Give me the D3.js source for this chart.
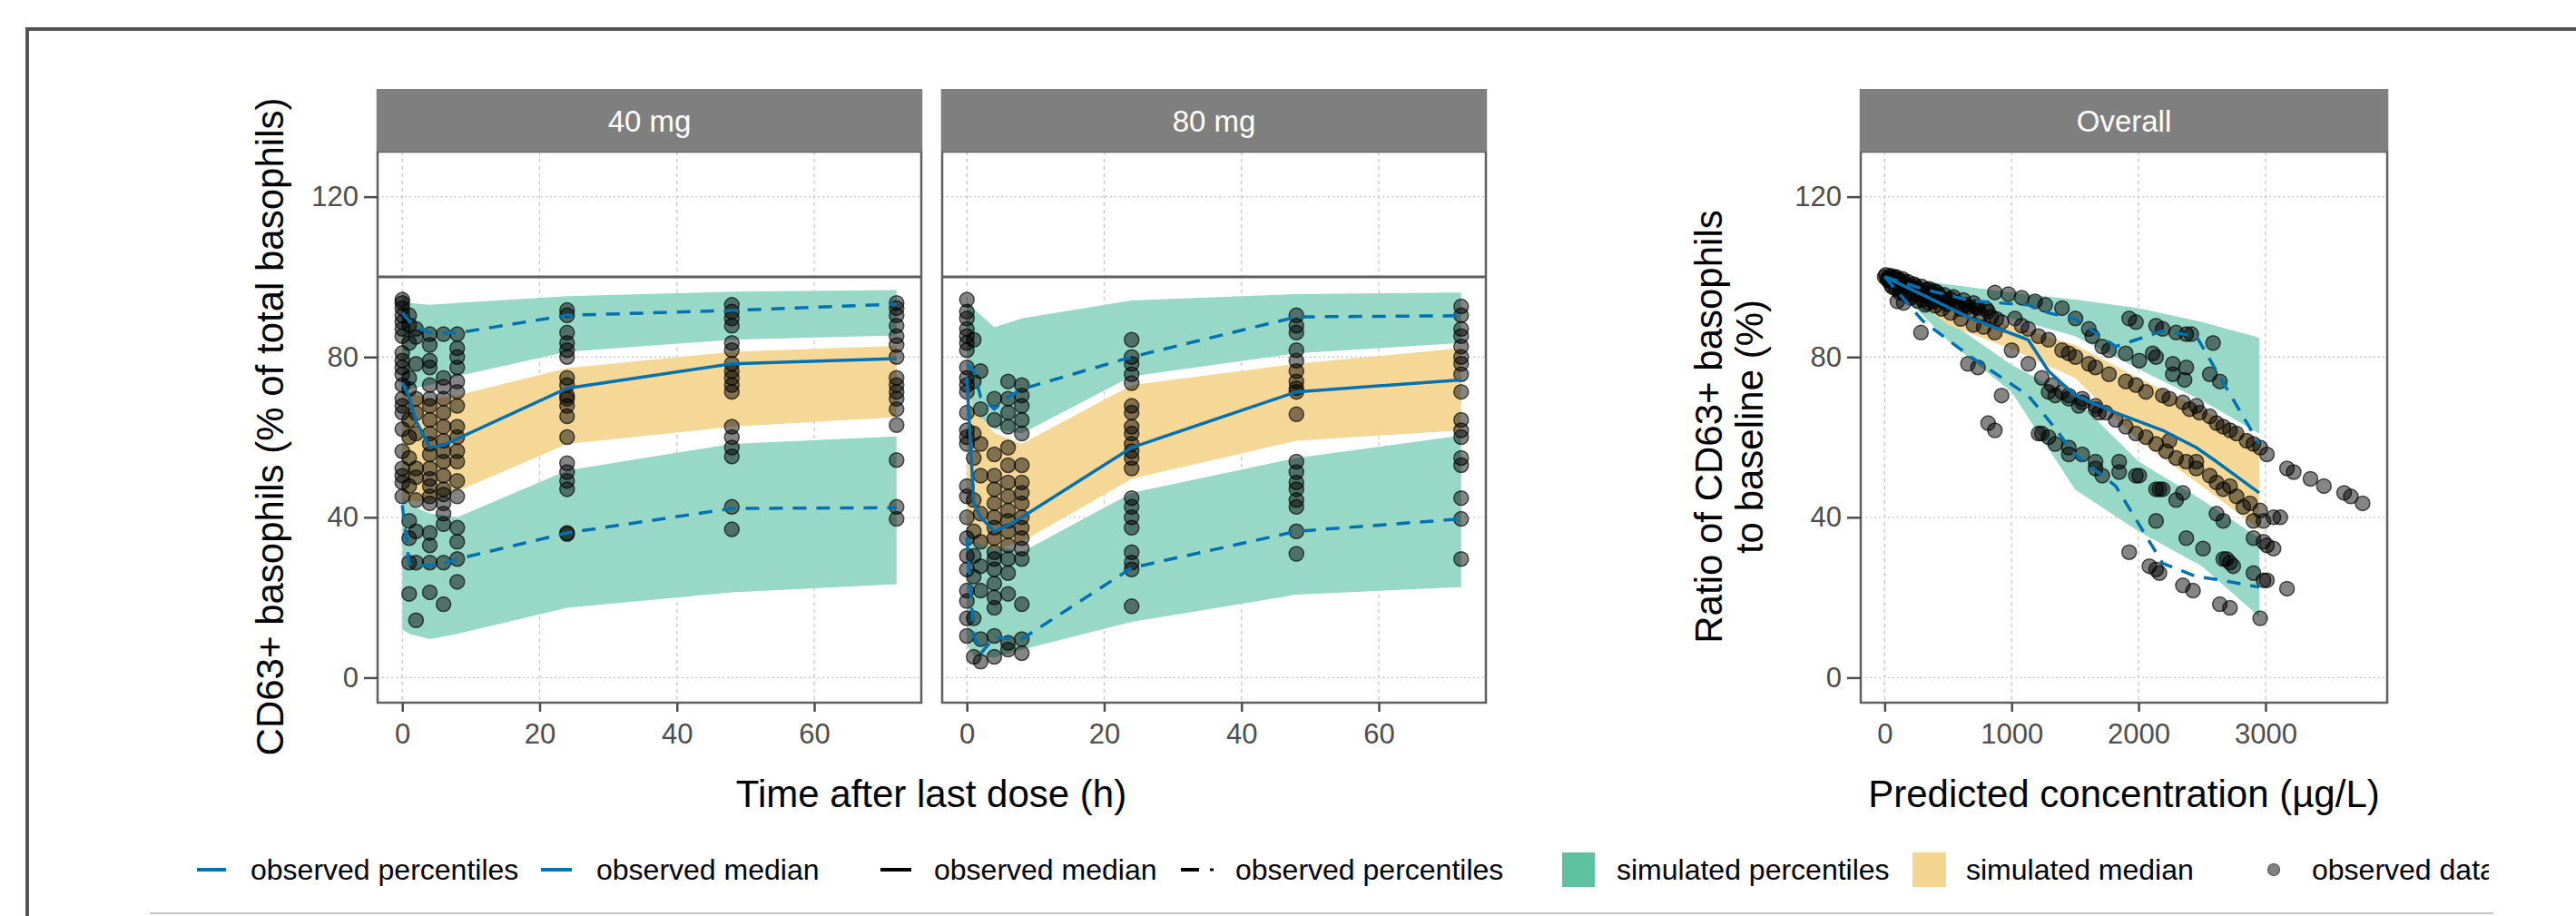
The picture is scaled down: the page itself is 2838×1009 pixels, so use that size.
<!DOCTYPE html>
<html>
<head>
<meta charset="utf-8">
<script src="https://cdn.jsdelivr.net/npm/d3@7"></script>
<style>
  body { margin: 0; background: #fff; }
  text { font-family: "Liberation Sans", Arial, sans-serif; }
</style>
</head>
<body>
<svg id="chart"></svg>
<script>
// ---- data ----
const panelNames = ["40 mg", "80 mg", "Overall"];
const timeTicks = [0, 20, 40, 60];
const concTicks = [0, 1000, 2000, 3000];
const yTicks = [0, 40, 80, 120];

// simulated ribbons (CD63+ %), per dose
const simTimes = [0, 1, 4, 8, 24, 48, 72];
const upperHi40 = [97, 93.5, 93, 93.5, 95.2, 96.3, 96.7];
const upperLo40 = [72, 72, 73, 75.2, 81.3, 84.3, 85.4];
const medHi40   = [74, 71, 69.5, 70.4, 77.2, 81.3, 82.8];
const medLo40   = [45, 44, 44, 46.5, 58.3, 62.6, 65];
const lowerHi40 = [47, 43, 41, 40, 51.7, 58.3, 60.2];
const lowerLo40 = [12, 10.9, 9.6, 10.9, 17.4, 21.3, 23.3];

const upperHi80 = [94, 92, 87.4, 89.6, 94.1, 95.7, 96.1];
const upperLo80 = [72, 66, 62, 60.9, 75.2, 80.9, 83.5];
const medHi80   = [74, 67, 61, 58.3, 73, 78.3, 82.2];
const medLo80   = [38, 34, 32, 33.9, 49.6, 59.1, 61.7];
const lowerHi80 = [40, 36, 33, 31.3, 46.1, 54.8, 60.4];
const lowerLo80 = [8, 5.5, 5, 7, 13.9, 20.7, 22.6];

// observed median / percentiles per dose
const obsTimes = [0, 1, 2, 4, 6, 8, 24, 48, 72];
const median40 = [73.6, 70, 64, 57.5, 58, 59.6, 72.2, 78.3, 79.6];
const upper40  = [91, 89, 87.5, 86, 86, 86, 90.4, 91.6, 93.2];
const lower40  = [43, 28.4, 28, 28, 28.5, 29.6, 36.1, 42.2, 42.4];
const median80 = [74.8, 43.5, 40, 36.5, 38, 40, 57.4, 71.3, 74.3];
const upper80  = [78, 76.7, 70, 67, 70, 72, 80, 90, 90.3];
const lower80  = [35, 10.4, 6, 10, 9.8, 9.6, 27.4, 36.5, 39.6];

// observed data, one list per nominal time
const pts40 = [
  [94.3, 93.5, 92.2, 90.4, 88.7, 87, 85.2, 81, 79.1, 77.4, 75.7, 73, 69.6, 67.8, 66.1, 62, 56.5, 52.2, 50.4, 48.7, 45.2],
  [90.4, 88, 83.5, 74.8, 72, 64.3, 60, 54.8, 47.8, 39.1, 34.8, 28.7, 20.9],
  [87, 85, 78.3, 69.6, 66, 60.9, 52.2, 50, 44.3, 36.5, 28.7, 14.3],
  [85.7, 83, 79.1, 77.4, 73, 69.6, 67.8, 64.3, 60.9, 58.3, 55.7, 52.2, 49.6, 47.8, 45.2, 43.5, 36.1, 33, 28.7, 21.3],
  [85.7, 74.8, 72.6, 69.6, 66.1, 62.6, 59.1, 56.5, 53.9, 50.4, 47, 45.7, 43.5, 40.9, 38.3, 28.7, 18.3],
  [85.7, 82.2, 80, 77.4, 73.9, 71.3, 67.8, 62.6, 60, 56.5, 53.9, 49.1, 45.2, 37.4, 33.9, 29.6, 23.9],
  [91.7, 90.4, 86.1, 83.5, 81.7, 80, 74.8, 73, 70.4, 69.6, 67.8, 65.2, 60, 53.5, 51.3, 49.1, 47, 36.1, 35.8],
  [93, 91.3, 89.6, 87.8, 83.5, 81.7, 78.3, 76.5, 74.8, 73, 71.3, 62.6, 60, 57.4, 55.2, 42.6, 37],
  [93.5, 92.2, 90.4, 87.8, 85.2, 83, 80, 74.8, 73, 71.3, 69.6, 67, 63, 54.3, 42.6, 39.6]
];
const pts80 = [
  [94.3, 91.3, 89.6, 87, 85.2, 83.5, 81.7, 77.4, 74.8, 73, 71.3, 66.1, 61.7, 60, 58.3, 47.8, 45.2, 40, 34.8, 30.4, 27, 21.7, 19.1, 14.8, 10.4],
  [84.3, 73.9, 60.9, 54.8, 44.3, 36.5, 30.4, 25.2, 14.8, 5.2],
  [76.5, 67, 58.3, 50.4, 40.9, 33.9, 27.8, 21.7, 9.6, 4],
  [69.6, 64.3, 55.7, 50.4, 47, 43.5, 40, 37.4, 34.8, 31.3, 29.6, 27, 23.5, 20, 17.4, 10.4, 5.2],
  [73.9, 69.6, 66.1, 62.6, 57.4, 53, 48.7, 45.2, 41.7, 39.1, 36.5, 33, 29.6, 26.1, 20.9, 8.7, 7],
  [73, 70.4, 67.8, 64.3, 60.9, 53, 48.7, 46.1, 43.5, 40, 37.4, 34.8, 32.2, 29.6, 18.3, 9.6, 6.1],
  [84.3, 80, 78.3, 75.7, 73.5, 67.8, 66.1, 62.6, 60.9, 58.3, 56.5, 54.8, 52.2, 44.8, 42.6, 40, 37.4, 31.3, 28.7, 27, 17.8],
  [90.4, 87.8, 86.1, 81.7, 79.1, 76.5, 73.9, 72.2, 71.3, 65.7, 53.9, 51.3, 48.7, 47, 44.3, 42.6, 36.5, 30.9],
  [92.6, 90.4, 87, 85.2, 82.6, 80, 78.3, 75.7, 71.3, 64.3, 61.7, 60, 54.8, 53, 44.8, 39.6, 29.6]
];

// overall panel: ratio to baseline vs predicted concentration
const simConc = [0, 250, 500, 1000, 1500, 2000, 2500, 2950];
const upperHiC = [100.5, 99.2, 98.1, 96.1, 94.3, 92.2, 88.7, 84.8];
const upperLoC = [99.5, 96.5, 93, 89.6, 85.2, 77, 69.1, 60.9];
const medHiC   = [99.5, 96, 92, 87.8, 83, 74.8, 67, 59.1];
const medLoC   = [98.5, 94, 88, 82, 74.8, 59.1, 47.8, 37];
const lowerHiC = [98.5, 95, 89, 78, 69.6, 53.9, 44.3, 34.8];
const lowerLoC = [97.5, 92, 84, 71.3, 46.9, 36.5, 27.8, 15.2];

const obsConc = [0, 300, 680, 1130, 1290, 1500, 1820, 2190, 2455, 2614, 2950];
const medianC = [100, 95.5, 89.6, 84.3, 76.5, 70.4, 66.1, 61.7, 57.4, 53.9, 46.1];
const upperC  = [100, 97, 94, 93, 91, 89.5, 82.6, 86.5, 85.2, 76.5, 58.3];
const lowerC  = [100, 89, 80, 70.4, 64.3, 55.7, 47.8, 28.5, 25.2, 24.5, 22.6];

const overallPoints = [
  // dense start of the curve
  [0,100],[20,99.5],[40,100],[60,99],[80,99.8],[100,98.5],[120,99.2],[150,98],[180,98.8],[200,97.5],
  [230,98.2],[260,96.8],[290,97.6],[320,96],[350,97],[380,95.4],[410,96.2],[440,94.6],[470,95.5],[500,94],
  [540,95],[580,93.2],[620,94.2],[660,92.5],[700,93.5],[50,98],[90,97],[130,96.5],[170,95.6],[210,94.8],
  [250,95.7],[300,94.3],[340,93.5],[400,92.8],[150,93.5],[286,86.1],[100,93.9],
  [10,100.5],[30,99],[50,100.3],[70,99.5],[90,100],[110,99],[140,99.5],[160,98.5],[190,97.8],[220,97],
  [240,97.8],[270,96.5],[310,95.5],[330,96.8],[360,95.2],[390,96.5],[430,95.5],[460,94],[490,93.2],[520,94.5],
  [560,93.5],[600,92],[640,93],[680,91.5],[720,92.5],[760,90.5],[800,92],[840,90],[880,89.5],[60,97.5],
  [120,96],[200,95],[260,94],[320,93],[380,93.8],[450,92],[520,91],[600,89.5],[700,88],[780,87.5],
  // upper-middle streak
  [921,88.7],[1079,87.8],[1212,85.2],[1291,84.3],[1397,81.7],[1503,80],[1608,78.3],[1767,75.7],[1899,73.9],
  [2058,71.3],[2190,70.4],[2349,68.7],[2481,66.1],[2614,63.5],[2720,61.7],[2852,59.1],[2958,57.4],[3011,55.7],
  [2455,67.8],[2561,65.2],[2243,69.6],[1979,73],[1661,77.4],[1450,80.9],[1026,89.6],[1132,87],[735,92.2],
  [815,91.3],[2772,60.9],[2905,58.3],[2667,62.6],[2402,67],
  // middle streak
  [868,86.1],[1000,81.7],[1132,78.3],[1317,73],[1450,70.4],[1661,67.8],[1820,64.3],[1979,60.9],[2138,58.3],
  [2296,54.8],[2455,52.2],[2561,50.4],[2720,47.8],[2825,42.6],[2958,41.7],[1397,71.3],[1556,69.6],[1741,66.1],
  [1899,62.6],[2058,60],[2217,56.5],[2376,53.9],[2614,48.7],[2772,45.2],[2878,43.5],[1238,74.8],[1529,67.8],
  [2243,59.1],[2455,53.9],[2667,47],[2905,39.1],
  // lower streak
  [656,78.3],[735,77.4],[921,70.4],[1212,60.9],[1291,60],[1450,57.4],[1556,55.7],[1661,53.9],[1714,50.4],
  [1847,53.9],[2005,50.4],[2164,47],[2296,44.3],[2349,46.1],[2614,40.9],[2667,39.1],[2905,34.8],[3011,33],
  [3063,32.2],[2984,33.9],
  // lowest streak
  [815,63.5],[868,61.7],[1926,31.3],[2085,27.8],[2138,27],[2164,26.1],[2349,23],[2429,21.7],[2640,18.3],
  [2720,17.4],[2958,14.8],[3169,22.2],[3011,24.3],[2905,26.1],[2376,34.8],[2508,32.2],[2667,29.6],[2720,28.7],
  [2138,39.1],
  // scattered in the upper band
  [1926,89.6],[1979,88.7],[2138,87.8],[2190,87],[2296,86.1],[2376,85.7],[2415,85.7],[2587,83.5],[1899,80.9],
  [2005,79.1],[2111,80.9],[2138,80],[2270,78.3],[2376,77.4],[2561,75.7],[2640,73.9],[2270,75.7],[2362,74.3],
  [1608,87],[1503,89.6],[1397,92.2],[1265,93],[1185,93.9],[1079,94.8],[974,95.7],[868,96.1],[1714,82.6],
  [1767,81.7],[1635,85.2],
  // scattered in the lower band
  [1238,60.9],[1344,58.3],[1450,55.7],[1661,52.2],[1847,51.3],[1979,50.4],[2138,47],[2190,47],[2693,29.6],
  [2746,27.8],[2984,24.3],[2984,39.1],[3063,40],[3116,40],
  [1291,71.3],[1344,70.4],[1450,69.6],[1556,68.7],[1661,67],[1688,66.1],
  // high-concentration tail
  [3169,52.2],[3222,51.3],[3354,49.6],[3460,47.8],[3619,46.1],[3672,45.2],[3765,43.5]
];

// legend entries
const legendLabels = ["observed percentiles", "observed median", "observed median", "observed percentiles",
                      "simulated percentiles", "simulated median", "observed data"];

// ---- drawing ----
const blue = "#0072B2";
const green = "#98d8c6", yellow = "#f5d796";

const svg = d3.select("#chart").attr("width", 2838).attr("height", 1009);

// frame of the figure
svg.append("line").attr("x1", 28).attr("x2", 2838).attr("y1", 32).attr("y2", 32)
  .attr("stroke", "#555").attr("stroke-width", 4);
svg.append("line").attr("x1", 30).attr("x2", 30).attr("y1", 30).attr("y2", 1009)
  .attr("stroke", "#555").attr("stroke-width", 4);
svg.append("line").attr("x1", 165).attr("x2", 2747).attr("y1", 1006).attr("y2", 1006)
  .attr("stroke", "#c4c4c4").attr("stroke-width", 2);

const panelTop = 167, panelBottom = 774, stripTop = 98;
const y = d3.scaleLinear().domain([-6.25, 131.25]).range([panelBottom, panelTop]);

function drawPanel(p, i) {
  const x = d3.scaleLinear().domain(p.domain).range([p.x0, p.x1]);
  const g = svg.append("g");
  const clipId = "clip" + i;
  svg.append("clipPath").attr("id", clipId).append("rect")
    .attr("x", p.x0).attr("y", panelTop).attr("width", p.x1 - p.x0).attr("height", panelBottom - panelTop);

  // grid
  g.selectAll(".hg").data(yTicks).join("line")
    .attr("x1", p.x0).attr("x2", p.x1).attr("y1", d => y(d)).attr("y2", d => y(d))
    .attr("stroke", "#c8c8c8").attr("stroke-width", 1.3).attr("stroke-dasharray", "2,3");
  g.selectAll(".vg").data(p.ticks).join("line")
    .attr("x1", d => x(d)).attr("x2", d => x(d)).attr("y1", panelTop).attr("y2", panelBottom)
    .attr("stroke", "#c8c8c8").attr("stroke-width", 1.3).attr("stroke-dasharray", "4,4");

  const inner = g.append("g").attr("clip-path", `url(#${clipId})`);
  const rib = p.sim.x.map((v, k) => ({ x: v, uh: p.sim.uh[k], ul: p.sim.ul[k], mh: p.sim.mh[k],
    ml: p.sim.ml[k], lh: p.sim.lh[k], ll: p.sim.ll[k] }));
  const area = (lo, hi) => d3.area().x(d => x(d.x)).y0(d => y(d[lo])).y1(d => y(d[hi]));
  inner.append("path").datum(rib).attr("d", area("ul", "uh")).attr("fill", green);
  inner.append("path").datum(rib).attr("d", area("ll", "lh")).attr("fill", green);
  inner.append("path").datum(rib).attr("d", area("ml", "mh")).attr("fill", yellow);

  if (p.hline) {
    inner.append("line").attr("x1", p.x0).attr("x2", p.x1).attr("y1", y(100)).attr("y2", y(100))
      .attr("stroke", "#5f5f5f").attr("stroke-width", 3);
  }

  inner.selectAll("circle").data(p.points).join("circle")
    .attr("cx", d => x(d[0])).attr("cy", d => y(d[1])).attr("r", 8)
    .attr("fill", "#000").attr("fill-opacity", 0.48)
    .attr("stroke", "#000").attr("stroke-opacity", 0.65).attr("stroke-width", 1.5);

  const line = d3.line().x(d => x(d[0])).y(d => y(d[1]));
  const ob = p.obs;
  inner.append("path").datum(ob.x.map((v, k) => [v, ob.up[k]])).attr("d", line)
    .attr("fill", "none").attr("stroke", blue).attr("stroke-width", 3.5).attr("stroke-dasharray", "15,11");
  inner.append("path").datum(ob.x.map((v, k) => [v, ob.lo[k]])).attr("d", line)
    .attr("fill", "none").attr("stroke", blue).attr("stroke-width", 3.5).attr("stroke-dasharray", "15,11");
  inner.append("path").datum(ob.x.map((v, k) => [v, ob.med[k]])).attr("d", line)
    .attr("fill", "none").attr("stroke", blue).attr("stroke-width", 3.5);

  // border
  g.append("rect").attr("x", p.x0).attr("y", panelTop).attr("width", p.x1 - p.x0)
    .attr("height", panelBottom - panelTop).attr("fill", "none")
    .attr("stroke", "#5f5f5f").attr("stroke-width", 2.5);

  // strip
  g.append("rect").attr("x", p.x0 - 1.25).attr("y", stripTop).attr("width", p.x1 - p.x0 + 2.5)
    .attr("height", panelTop - stripTop).attr("fill", "#7f7f7f");
  g.append("text").attr("x", (p.x0 + p.x1) / 2).attr("y", (stripTop + panelTop) / 2 + 1)
    .attr("text-anchor", "middle").attr("dominant-baseline", "central")
    .attr("fill", "#fff").attr("font-size", 33).text(p.name);

  // axes
  const xAxis = g.append("g").attr("transform", `translate(0,${panelBottom})`)
    .call(d3.axisBottom(x).tickValues(p.ticks).tickSize(10).tickPadding(13).tickFormat(d3.format("d")));
  xAxis.select(".domain").remove();
  xAxis.selectAll("line").attr("stroke", "#4d4d4d").attr("stroke-width", 2.5);
  xAxis.selectAll("text").attr("font-size", 31).attr("fill", "#4d4d4d")
    .attr("font-family", "Liberation Sans, Arial, sans-serif");

  if (p.yAxis) {
    const yAxis = g.append("g").attr("transform", `translate(${p.x0},0)`)
      .call(d3.axisLeft(y).tickValues(yTicks).tickSize(15).tickPadding(6));
    yAxis.select(".domain").remove();
    yAxis.selectAll("line").attr("stroke", "#4d4d4d").attr("stroke-width", 2.5);
    yAxis.selectAll("text").attr("font-size", 31).attr("fill", "#4d4d4d")
      .attr("font-family", "Liberation Sans, Arial, sans-serif");
  }
}

const toPts = (cols) => cols.flatMap((vals, k) => vals.map(v => [obsTimes[k], v]));

const panels = [
  { name: panelNames[0], x0: 416, x1: 1015, domain: [-3.6, 75.6], ticks: timeTicks, yAxis: true, hline: true,
    sim: { x: simTimes, uh: upperHi40, ul: upperLo40, mh: medHi40, ml: medLo40, lh: lowerHi40, ll: lowerLo40 },
    obs: { x: obsTimes, med: median40, up: upper40, lo: lower40 }, points: toPts(pts40) },
  { name: panelNames[1], x0: 1038, x1: 1637, domain: [-3.6, 75.6], ticks: timeTicks, yAxis: false, hline: true,
    sim: { x: simTimes, uh: upperHi80, ul: upperLo80, mh: medHi80, ml: medLo80, lh: lowerHi80, ll: lowerLo80 },
    obs: { x: obsTimes, med: median80, up: upper80, lo: lower80 }, points: toPts(pts80) },
  { name: panelNames[2], x0: 2050, x1: 2630, domain: [-188.5, 3958.5], ticks: concTicks, yAxis: true, hline: false,
    sim: { x: simConc, uh: upperHiC, ul: upperLoC, mh: medHiC, ml: medLoC, lh: lowerHiC, ll: lowerLoC },
    obs: { x: obsConc, med: medianC, up: upperC, lo: lowerC }, points: overallPoints }
];
panels.forEach(drawPanel);

// axis titles
svg.append("text").attr("transform", "translate(297,470) rotate(-90)")
  .attr("text-anchor", "middle").attr("dominant-baseline", "central").attr("font-size", 42)
  .text("CD63+ basophils (% of total basophils)");
svg.append("text").attr("x", 1026).attr("y", 874).attr("text-anchor", "middle")
  .attr("dominant-baseline", "central").attr("font-size", 42).text("Time after last dose (h)");
svg.append("text").attr("transform", "translate(1882,470) rotate(-90)")
  .attr("text-anchor", "middle").attr("dominant-baseline", "central").attr("font-size", 42)
  .text("Ratio of CD63+ basophils");
svg.append("text").attr("transform", "translate(1927,470) rotate(-90)")
  .attr("text-anchor", "middle").attr("dominant-baseline", "central").attr("font-size", 42)
  .text("to baseline (%)");
svg.append("text").attr("x", 2340).attr("y", 874).attr("text-anchor", "middle")
  .attr("dominant-baseline", "central").attr("font-size", 42).text("Predicted concentration (µg/L)");

// legend
svg.append("clipPath").attr("id", "legclip").append("rect")
  .attr("x", 0).attr("y", 900).attr("width", 2742).attr("height", 100);
const leg = svg.append("g").attr("clip-path", "url(#legclip)");
const ly = 958;
leg.append("line").attr("x1", 217).attr("x2", 249).attr("y1", ly).attr("y2", ly).attr("stroke", blue).attr("stroke-width", 4);
leg.append("line").attr("x1", 596).attr("x2", 630).attr("y1", ly).attr("y2", ly).attr("stroke", blue).attr("stroke-width", 4);
leg.append("line").attr("x1", 970).attr("x2", 1004).attr("y1", ly).attr("y2", ly).attr("stroke", "#000").attr("stroke-width", 4);
leg.append("line").attr("x1", 1301).attr("x2", 1321).attr("y1", ly).attr("y2", ly).attr("stroke", "#000").attr("stroke-width", 4);
leg.append("line").attr("x1", 1333).attr("x2", 1337).attr("y1", ly).attr("y2", ly).attr("stroke", "#000").attr("stroke-width", 3);
leg.append("rect").attr("x", 1721).attr("y", 939).attr("width", 36).attr("height", 38).attr("fill", "#5ec2a0");
leg.append("rect").attr("x", 2107).attr("y", 939).attr("width", 37).attr("height", 38).attr("fill", "#f3d590");
leg.append("circle").attr("cx", 2505).attr("cy", ly).attr("r", 6.5).attr("fill", "#808080").attr("stroke", "#555").attr("stroke-width", 1.2);
const legX = [276, 657, 1029, 1361, 1781, 2166, 2547];
leg.selectAll(".lt").data(legendLabels).join("text")
  .attr("x", (d, k) => legX[k]).attr("y", ly).attr("dominant-baseline", "central")
  .attr("font-size", 32).attr("fill", "#000").text(d => d);
</script>
</body>
</html>
